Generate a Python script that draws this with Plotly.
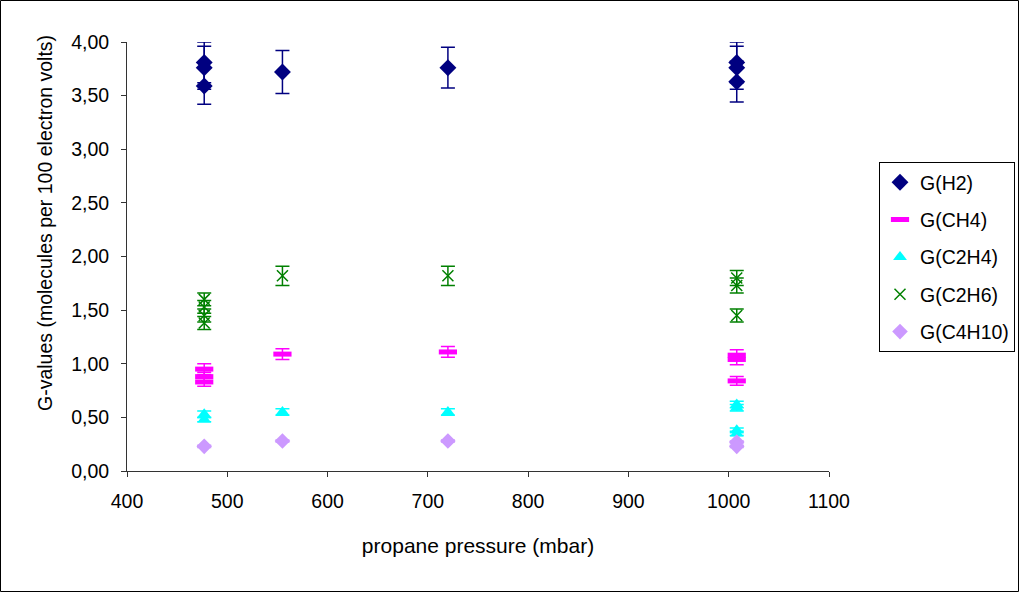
import plotly.graph_objects as go

# ---- data ----
h2_x = [477, 477, 477, 555, 720, 1008, 1008, 1008]
h2_y = [3.81, 3.76, 3.59, 3.72, 3.76, 3.81, 3.76, 3.63]
h2_err = [0.19, 0.20, 0.17, 0.20, 0.19, 0.19, 0.20, 0.19]

ch4_x = [477, 477, 477, 555, 720, 1008, 1008, 1008]
ch4_y = [0.95, 0.88, 0.83, 1.09, 1.11, 1.08, 1.04, 0.84]
ch4_err = [0.05, 0.04, 0.04, 0.05, 0.05, 0.05, 0.05, 0.04]

c2h4_x = [477, 477, 555, 720, 1008, 1008, 1008, 1008]
c2h4_y = [0.53, 0.48, 0.55, 0.55, 0.62, 0.59, 0.38, 0.35]
c2h4_err = [0.03, 0.02, 0.03, 0.03, 0.03, 0.03, 0.02, 0.02]

c2h6_x = [477, 477, 477, 477, 555, 720, 1008, 1008, 1008]
c2h6_y = [1.60, 1.53, 1.45, 1.38, 1.82, 1.82, 1.80, 1.73, 1.45]
c2h6_err = [0.06, 0.06, 0.06, 0.06, 0.09, 0.09, 0.07, 0.07, 0.06]

c4h10_x = [477, 555, 720, 1008, 1008]
c4h10_y = [0.23, 0.28, 0.28, 0.27, 0.23]
c4h10_err = [0.01, 0.01, 0.01, 0.01, 0.01]

series_names = ["G(H2)", "G(CH4)", "G(C2H4)", "G(C2H6)", "G(C4H10)"]
x_ticks = [400, 500, 600, 700, 800, 900, 1000, 1100]
y_ticks = [0, 0.5, 1.0, 1.5, 2.0, 2.5, 3.0, 3.5, 4.0]
x_title = "propane pressure (mbar)"
y_title = "G-values (molecules per 100 electron volts)"

fig = go.Figure()

def add(name, xs, ys, errs, color, symbol, size, lw=0, lcolor=None):
    fig.add_trace(go.Scatter(
        x=xs, y=ys, mode="markers", name=name, legendgroup=name,
        marker=dict(symbol=symbol, size=size, color=color,
                    line=dict(width=lw, color=lcolor or color)),
        error_y=dict(type="data", array=errs, visible=True,
                     color=color, thickness=1.5, width=7),
    ))

add(series_names[0], h2_x, h2_y, h2_err, "#000080", "diamond", 13)
add(series_names[1], ch4_x, ch4_y, ch4_err, "#FF00FF", "line-ew", 13, lw=5)
add(series_names[2], c2h4_x, c2h4_y, c2h4_err, "#00FFFF", "triangle-up", 12)
add(series_names[3], c2h6_x, c2h6_y, c2h6_err, "#008000", "x-thin", 11, lw=1.5)
add(series_names[4], c4h10_x, c4h10_y, c4h10_err, "#CC99FF", "diamond", 12)

W, H = 1019, 592
L, R, T, B = 127, 190, 42, 121
pw, ph = W - L - R, H - T - B

fig.update_layout(
    width=W, height=H,
    margin=dict(l=L, r=R, t=T, b=B, autoexpand=False),
    paper_bgcolor="white", plot_bgcolor="white",
    separators=", ",
    font=dict(family="Liberation Sans, Arial, sans-serif", size=19, color="black"),
    showlegend=True,
    legend=dict(x=(879 - L) / pw, y=(H - B - 162) / ph, xanchor="left", yanchor="top",
                bordercolor="black", borderwidth=1, bgcolor="white",
                font=dict(size=19.5), tracegroupgap=9),
    xaxis=dict(range=[400, 1100], tickvals=x_ticks, showline=True, linecolor="#333333",
               linewidth=1, ticks="outside", ticklen=5, tickcolor="#333333",
               showgrid=False, zeroline=False, ticklabelstandoff=8,
               title=dict(text=x_title, standoff=26, font=dict(size=21)),
               tickfont=dict(size=19.5)),
    yaxis=dict(range=[0, 4], tickvals=y_ticks, tickformat=".2f", showline=True,
               linecolor="#333333", linewidth=1, ticks="outside", ticklen=5,
               tickcolor="#333333", showgrid=False, zeroline=False, ticklabelstandoff=8,
               tickfont=dict(size=19.5)),
    annotations=[dict(text=y_title, textangle=-90, xref="paper", yref="paper",
                      x=(45 - L) / pw, y=(H - B - 223) / ph, xanchor="center",
                      yanchor="middle", showarrow=False, font=dict(size=19.5))],
    shapes=[dict(type="rect", xref="paper", yref="paper",
                 x0=(0.5 - L) / pw, x1=(W - 0.5 - L) / pw,
                 y0=(0.5 - B) / ph, y1=(H - 0.5 - B) / ph,
                 line=dict(color="black", width=1), fillcolor="rgba(0,0,0,0)",
                 layer="below")],
)

fig.write_html("out.html", config={"displayModeBar": False},
               post_script="document.body.style.margin='0';document.body.style.padding='0';")
